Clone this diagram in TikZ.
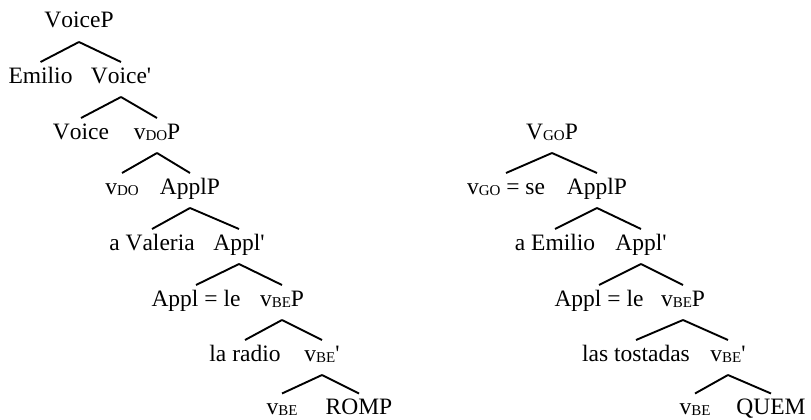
\documentclass[tikz,border=0pt]{standalone}
\usepackage{fontspec}
\setmainfont[Kerning=Off]{Liberation Serif}
\newcommand\sbx[1]{\raisebox{-1.2pt}{\fontsize{15}{15}\selectfont #1}}
\newcommand\prm{\textquotesingle}
\tikzset{
  w/.style={anchor=base, inner sep=0pt, font=\fontsize{23.5}{26}\selectfont},
  br/.style={line width=1.9pt}
}
\newcommand\branch[2]{\draw[br] ([yshift=-14pt]#1.base) -- ([yshift=21pt]#2.base);}
\begin{document}
\begin{tikzpicture}[x=1pt,y=-1pt]
\useasboundingbox (0,0) rectangle (811,420);
% left tree
\node[w] (voiceP) at (79,28) {VoiceP};
\node[w] (emilio) at (40.5,83) {Emilio};
\node[w] (voiceb) at (121,83) {Voice\prm};
\node[w] (voice) at (81,139) {Voice};
\node[w] (vdoP) at (157,139) {v\sbx{DO}P};
\node[w] (vdo) at (122,194) {v\sbx{DO}};
\node[w] (applP) at (190,194) {ApplP};
\node[w] (valeria) at (152,250) {a Valeria};
\node[w] (applb) at (239,250) {Appl\prm};
\node[w] (appl) at (196,306) {Appl = le};
\node[w] (vbeP) at (282,306) {v\sbx{BE}P};
\node[w] (radio) at (245,361) {la radio};
\node[w] (vbeb) at (322,361) {v\sbx{BE}\prm};
\node[w] (vbe) at (282,414.5) {v\sbx{BE}};
\node[w] (romp) at (359,414.5) {ROMP};
\branch{voiceP}{emilio}\branch{voiceP}{voiceb}
\branch{voiceb}{voice}\branch{voiceb}{vdoP}
\branch{vdoP}{vdo}\branch{vdoP}{applP}
\branch{applP}{valeria}\branch{applP}{applb}
\branch{applb}{appl}\branch{applb}{vbeP}
\branch{vbeP}{radio}\branch{vbeP}{vbeb}
\branch{vbeb}{vbe}\branch{vbeb}{romp}
% right tree
\node[w] (vgoP) at (552,139) {V\sbx{GO}P};
\node[w] (vgo) at (506,194) {v\sbx{GO} = se};
\node[w] (applPr) at (597,194) {ApplP};
\node[w] (aemilio) at (555,250) {a Emilio};
\node[w] (applbr) at (641,250) {Appl\prm};
\node[w] (applr) at (599,306) {Appl = le};
\node[w] (vbePr) at (683,306) {v\sbx{BE}P};
\node[w] (tost) at (636,361) {las tostadas};
\node[w] (vbebr) at (728,361) {v\sbx{BE}\prm};
\node[w] (vber) at (695,414.5) {v\sbx{BE}};
\node[w] (quem) at (771,414.5) {QUEM};
\branch{vgoP}{vgo}\branch{vgoP}{applPr}
\branch{applPr}{aemilio}\branch{applPr}{applbr}
\branch{applbr}{applr}\branch{applbr}{vbePr}
\branch{vbePr}{tost}\branch{vbePr}{vbebr}
\branch{vbebr}{vber}\branch{vbebr}{quem}
\end{tikzpicture}
\end{document}
